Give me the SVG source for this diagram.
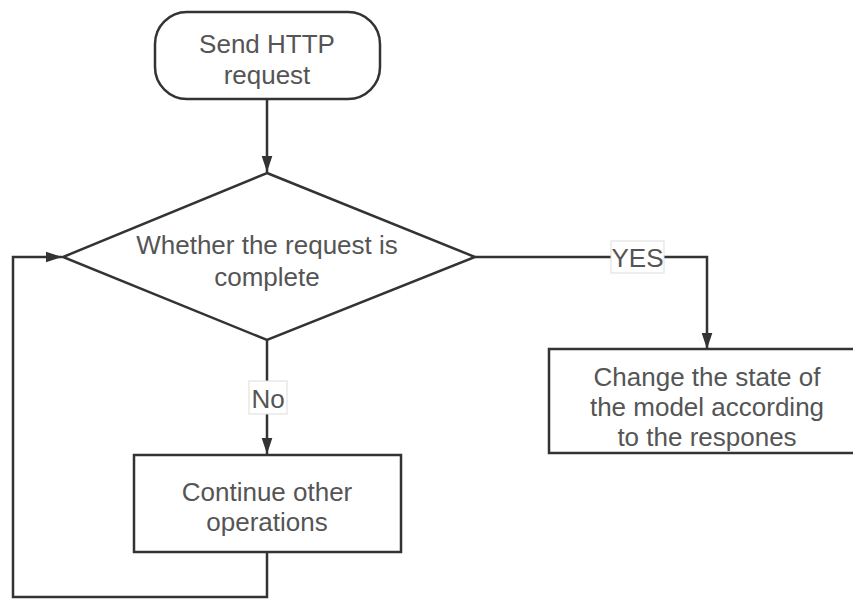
<svg xmlns="http://www.w3.org/2000/svg" width="853" height="599" viewBox="0 0 853 599">
<style>
.shape{fill:#fff;stroke:#333;stroke-width:2.5}
.line{fill:none;stroke:#333;stroke-width:2.5}
.t{font-family:"Liberation Sans",Arial,sans-serif;font-size:26px;fill:#555;text-anchor:middle;dominant-baseline:central}
.lbl{fill:#fff;stroke:#ddd;stroke-width:1}
</style>
<defs>
<marker id="arrB" markerWidth="16" markerHeight="24" refX="24" refY="8" orient="auto" markerUnits="userSpaceOnUse" viewBox="0 0 24 16">
<path d="M0,0 L24,8 L0,16 Z" fill="#333"/>
</marker>
</defs>
<g id="connectors">
<line class="line" x1="267" y1="99" x2="267" y2="172" marker-end="url(#arrB)"/>
<polyline class="line" points="475,257 707,257 707,349" marker-end="url(#arrB)"/>
<line class="line" x1="267" y1="340" x2="267" y2="454" marker-end="url(#arrB)"/>
<polyline class="line" points="267,552 267,597 13,597 13,257 62,257" marker-end="url(#arrB)"/>
<g id="label-yes">
<rect class="lbl" x="611" y="241" width="53" height="32"/>
<text class="t" x="637.5" y="258">YES</text>
</g>
<g id="label-no">
<rect class="lbl" x="249" y="381" width="38" height="33"/>
<text class="t" x="268" y="399">No</text>
</g>
</g>
<g id="start">
<rect class="shape" x="155" y="12" width="225" height="87" rx="32" ry="32"/>
<text class="t" x="267" y="44">Send HTTP</text>
<text class="t" x="267" y="75">request</text>
</g>
<g id="decision">
<polygon class="shape" points="267,173 475,257 267,340 63,257"/>
<text class="t" x="267" y="245">Whether the request is</text>
<text class="t" x="267" y="277">complete</text>
</g>
<g id="change">
<rect class="shape" x="549" y="349" width="318" height="104"/>
<text class="t" x="707" y="377">Change the state of</text>
<text class="t" x="707" y="407">the model according</text>
<text class="t" x="707" y="437">to the respones</text>
</g>
<g id="continue">
<rect class="shape" x="134" y="455" width="267" height="97"/>
<text class="t" x="267" y="492">Continue other</text>
<text class="t" x="267" y="522">operations</text>
</g>
</svg>
